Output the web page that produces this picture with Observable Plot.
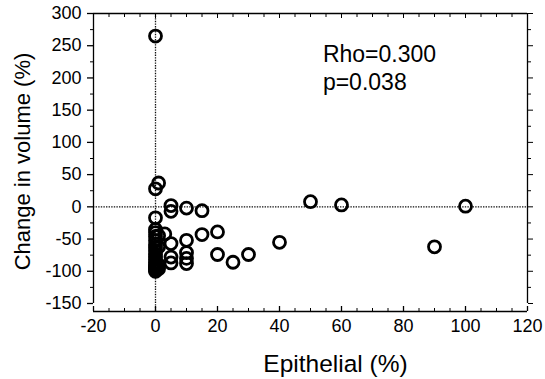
<!DOCTYPE html>
<html>
<head>
<meta charset="utf-8">
<script src="https://cdn.jsdelivr.net/npm/d3@7"></script>
<script src="https://cdn.jsdelivr.net/npm/@observablehq/plot@0.6"></script>
<style>
  html, body { margin: 0; padding: 0; background: white; }
</style>
</head>
<body>
<div id="chart"></div>
<script>
// Epithelial (%) values
const epithelial = [
  0, 1, 0, 0,
  5, 5, 10, 15, 50, 60, 100,
  0, 0, 0, 0, 0, 0, 0, 0, 0, 0, 0, 0, 0, 0, 0, 0, 0,
  1, 1, 1, 1,
  3, 5, 5, 5,
  10, 10, 10, 10,
  15, 20, 20, 25, 30, 40, 90
];
// Change in volume (%) values
const volumeChange = [
  265, 37, 28, -17,
  2, -7, -2, -6, 8, 3, 1,
  -35, -40, -46, -52, -58, -63, -68, -73, -78, -82, -86, -89, -92, -94, -96, -98, -100,
  -45, -62, -90, -96,
  -42, -57, -78, -87,
  -52, -71, -80, -88,
  -43, -39, -74, -86, -74, -55, -62
];
const xMajor = [-20, 0, 20, 40, 60, 80, 100, 120];
const xMinor = [-15, -10, -5, 5, 10, 15, 25, 30, 35, 45, 50, 55, 65, 70, 75, 85, 90, 95, 105, 110, 115];
const yMajor = [-150, -100, -50, 0, 50, 100, 150, 200, 250, 300];
const yMinor = [-125, -75, -25, 25, 75, 125, 175, 225, 275];
const statsText = ["Rho=0.300", "p=0.038"];
const statsPos = {x: 54, y: 255};
const xLabel = "Epithelial (%)";
const yLabel = "Change in volume (%)";

const points = epithelial.map((x, i) => ({x, y: volumeChange[i]}));
const blank = () => "";
const font = "'Liberation Sans', Arial, Helvetica, sans-serif";

const chart = Plot.plot({
  width: 545,
  height: 379,
  marginLeft: 93,
  marginRight: 18,
  marginTop: 13,
  marginBottom: 76,
  x: {domain: [-20, 120]},
  y: {domain: [-150, 300]},
  style: {fontFamily: font, color: "black", background: "white", overflow: "visible"},
  marks: [
    Plot.ruleY([0], {stroke: "#111", strokeWidth: 1.3, strokeDasharray: "1.4 1.2"}),
    Plot.ruleX([0], {stroke: "#111", strokeWidth: 1.3, strokeDasharray: "1.4 1.2", insetBottom: -8}),
    Plot.ruleX([-20], {stroke: "black", strokeWidth: 1.3}),
    Plot.ruleX([120], {stroke: "black", strokeWidth: 1.3}),
    Plot.ruleY([300], {stroke: "black", strokeWidth: 1.3}),
    Plot.ruleY([-150], {stroke: "black", strokeWidth: 1.3, dy: 8}),
    // left axis
    Plot.axisY({anchor: "left", ticks: yMajor, tickSize: 6, tickPadding: 6, fontSize: 18, tickFormat: d => String(d), label: null, strokeWidth: 1.3}),
    Plot.axisY({anchor: "left", ticks: yMinor, tickSize: 3, tickFormat: blank, label: null}),
    // right axis
    Plot.axisY({anchor: "right", ticks: yMajor, tickSize: 5, tickFormat: blank, label: null}),
    Plot.axisY({anchor: "right", ticks: yMinor, tickSize: 3, tickFormat: blank, label: null}),
    // top axis (inward ticks)
    Plot.axisX({anchor: "top", ticks: xMajor, tickSize: 4, dy: 4, tickFormat: blank, label: null}),
    Plot.axisX({anchor: "top", ticks: xMinor, tickSize: 3, dy: 3, tickFormat: blank, label: null}),
    // bottom axis, offset below, inward ticks
    Plot.axisX({anchor: "bottom", ticks: xMajor, tickSize: 5, dy: 3, tickFormat: blank, label: null, strokeWidth: 1.3}),
    Plot.axisX({anchor: "bottom", ticks: xMinor, tickSize: 3, dy: 5, tickFormat: blank, label: null}),
    Plot.axisX({anchor: "bottom", ticks: xMajor, tickSize: 0, tickPadding: 16, fontSize: 18, tickFormat: d => String(d), label: null}),
    // axis titles
    Plot.text([xLabel], {frameAnchor: "bottom", textAnchor: "middle", lineAnchor: "middle", dx: 25, dy: 61, fontSize: 24.5}),
    Plot.text([yLabel], {frameAnchor: "left", textAnchor: "middle", lineAnchor: "middle", rotate: -90, dx: -71, dy: 3, fontSize: 22}),
    // data
    Plot.dot(points, {x: "x", y: "y", r: 6, stroke: "black", strokeWidth: 2.8, fill: "none"}),
    // statistics
    Plot.text([statsText.join("\n")], {x: () => statsPos.x, y: () => statsPos.y, textAnchor: "start", lineAnchor: "top", fontSize: 23, lineHeight: 1.22})
  ]
});
document.getElementById("chart").appendChild(chart);
</script>
</body>
</html>
